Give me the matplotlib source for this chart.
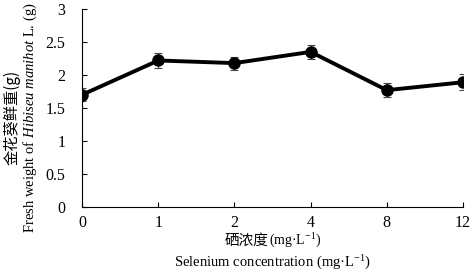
import numpy as np
import matplotlib
matplotlib.use('agg')
import matplotlib.pyplot as plt

# data
conc_labels = ['0', '1', '2', '4', '8', '12']
fresh_weight = [1.70, 2.22, 2.18, 2.35, 1.77, 1.89]
weight_err = [0.10, 0.11, 0.10, 0.11, 0.11, 0.12]
y_ticks = [0, 0.5, 1, 1.5, 2, 2.5, 3]
y_tick_labels = ['0', '0.5', '1', '1.5', '2', '2.5', '3']

plt.rcParams['font.family'] = ['Liberation Serif', 'Noto Sans CJK SC']
plt.rcParams['mathtext.fontset'] = 'custom'
plt.rcParams['mathtext.rm'] = 'Liberation Serif'
plt.rcParams['mathtext.it'] = 'Liberation Serif:italic'

fig = plt.figure(figsize=(4.72, 2.73), dpi=100)
ax = fig.add_axes([0.174, 0.242, 0.807, 0.725])

x = np.arange(len(conc_labels))
ax.errorbar(x, fresh_weight, yerr=weight_err, fmt='none', ecolor='#444444',
            elinewidth=0.8, capsize=3, capthick=0.8, zorder=1)
ax.plot(x, fresh_weight, color='black', lw=2.8, marker='o', ms=8, zorder=2)

ax.set_xlim(0, len(conc_labels) - 1)
ax.set_ylim(0, 3)
ax.set_xticks(x)
ax.set_xticklabels(conc_labels)
ax.set_yticks(y_ticks)
ax.set_yticklabels(y_tick_labels)
ax.spines['top'].set_visible(False)
ax.spines['right'].set_visible(False)
for s in ('left', 'bottom'):
    ax.spines[s].set_linewidth(0.8)
ax.tick_params(direction='in', length=3.5, width=0.8, labelsize=11.5)
ax.tick_params(axis='x', pad=6)
ax.tick_params(axis='y', pad=12)

cjk = ['Noto Sans CJK SC', 'Liberation Serif']
fig.text(0.569, 0.118, '硒浓度', ha='right', va='center', fontsize=10.5, family=cjk)
fig.text(0.569, 0.118, '(mg·L$^{-1}$)', ha='left', va='center', fontsize=10)
fig.text(0.577, 0.038, 'Selenium concentration (mg·L$^{-1}$)', ha='center', va='center', fontsize=10.5)
fig.text(0.026, 0.568, '金花葵鲜重(g)', ha='center', va='center', rotation=90, fontsize=11, family=cjk)
fig.text(0.064, 0.568, r'Fresh weight of $\mathit{Hibiseu\ manihot}$ L. (g)',
         ha='center', va='center', rotation=90, fontsize=10.5)

plt.savefig('out.png', dpi=100)
plt.close()
